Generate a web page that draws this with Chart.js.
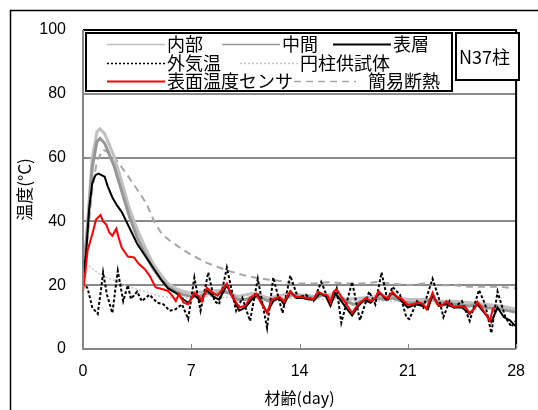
<!DOCTYPE html>
<html><head><meta charset="utf-8">
<script src="https://cdn.jsdelivr.net/npm/chart.js@4/dist/chart.umd.min.js"></script>
<style>html,body{margin:0;padding:0;background:#fff}</style>
</head><body>
<canvas id="c" width="538" height="410"></canvas>
<script>
const xTicks=[0,7,14,21,28];
const yTicks=[0,20,40,60,80,100];
const legendNames=['内部','中間','表層','外気温','円柱供試体','表面温度センサ','簡易断熱'];
const boxLabel='N37柱';
const xTitle='材齢(day)';
const yTitle='温度(°C)';

const naibu=[[0,22],[0.3,40],[0.6,60],[0.9,68],[1.1,69],[1.4,67.5],[2,60.5],[2.5,52.5],[3,44],[3.5,37.5],[4,32],[4.5,27],[5,23.5],[5.5,20.5],[6,19],[6.5,18],[7,17.5],[8,18],[9,18.5],[10,16.5],[11,17.5],[12,16],[13,17],[14,17],[15,16.5],[16,17],[17,15.5],[18,16],[19,16.5],[20,16.5],[21,15.5],[22,15.5],[23,15],[24,15],[25,14.5],[26,14],[27,13.5],[28,12.5]];
const chukan=[[0,22],[0.3,38],[0.6,57],[0.9,65],[1.1,66],[1.4,64.5],[2,57.5],[2.5,49.5],[3,41.5],[3.5,35],[4,30],[4.5,25.5],[5,22],[5.5,19.5],[6,18],[6.5,17],[7,16.5],[7.5,16.5],[8,17.5],[8.5,17],[9,18],[9.5,17.5],[10,15.5],[10.5,15.5],[11,16.5],[11.5,16],[12,15],[12.5,16],[13,15.5],[13.5,17],[14,16.5],[15,16],[15.5,17],[16,16],[16.5,16.5],[17,15],[17.5,14],[18,15],[18.5,15],[19,16],[19.5,15.5],[20,16],[21,14.5],[22,14.5],[22.6,16],[23,14.5],[24,14],[25,13.5],[25.5,14],[26,13],[27,12.5],[28,11.5]];
const hyoso=[[0,22],[0.2,30],[0.4,44],[0.6,52],[0.8,54.5],[1.0,55],[1.2,54.5],[1.4,54],[1.6,51],[1.9,47.5],[2.2,45],[2.5,43],[3,38],[3.5,33],[4.1,28.6],[4.6,25],[5.1,21.4],[5.5,19],[6,17.6],[6.5,15.5],[6.8,14.5],[7.2,17],[7.6,15],[8.0,18.5],[8.4,16.5],[8.8,15.5],[9.3,20],[9.7,16],[10.1,12],[10.5,13],[10.9,15.5],[11.3,17],[11.6,14],[11.9,11.5],[12.3,15],[12.7,16],[13.0,14],[13.4,18],[13.8,16],[14.2,16],[14.6,15.5],[15.0,15.5],[15.3,17.5],[15.7,16.5],[16.0,13.5],[16.3,17.5],[16.7,15],[17.0,13],[17.4,10.5],[17.8,13.5],[18.2,15.5],[18.6,14.5],[19.2,17.5],[19.6,15.5],[20.0,17.5],[20.5,15.5],[21.0,13],[21.5,14],[22.0,13.5],[22.3,12.5],[22.6,17],[23.0,13.5],[23.5,14],[24.0,13],[24.5,13],[25.0,11],[25.5,14],[26.0,11],[26.4,8.5],[26.8,13],[27.2,10],[27.6,9],[28,7]];
const gaiki=[[0,21],[0.3,19],[0.6,13],[0.95,11],[1.15,18],[1.3,24],[1.55,17],[1.9,11.3],[2.1,19],[2.25,24.5],[2.6,15],[2.9,20],[3.1,15.7],[3.5,18],[3.8,15],[4.3,17],[4.8,14.5],[5.2,14],[5.6,12],[6.0,12.5],[6.4,14],[6.8,9.4],[7.2,22.4],[7.6,12],[8.1,24],[8.5,15],[8.8,14],[9.3,25.5],[9.9,12],[10.3,16],[10.8,8.8],[11.3,22],[11.9,6.6],[12.3,22.4],[12.9,11.3],[13.4,23],[13.9,16],[14.4,17],[14.9,15],[15.4,21],[16.0,14],[16.4,19],[16.7,8.2],[17.4,21],[17.9,9],[18.5,18],[18.9,14],[19.3,24],[19.7,15],[20.0,19.5],[20.5,17],[20.9,10],[21.1,9.4],[21.6,15],[22.0,13],[22.6,22],[23.0,16],[23.3,10],[23.7,15],[24.0,13],[24.5,15],[25.0,8.8],[25.6,18.5],[26.0,14],[26.4,5],[26.8,18],[27.3,10],[27.7,7],[28,9]];
const enchu=[[0,20],[0.2,24],[0.4,26],[0.8,24.5],[1.2,23],[2,21.5],[3,19.5],[4,18],[5,16.5],[6,16],[7,16],[8,16.5],[10,16],[12,15.5],[14,16],[16,15.5],[18,15],[20,15],[22,14.5],[24,14],[26,13.5],[28,12]];
const sensor=[[0,18],[0.15,24],[0.3,31],[0.6,36],[0.85,40.7],[1.13,42],[1.3,40],[1.5,39],[1.7,36.5],[1.9,35.5],[2.15,37.7],[2.3,35],[2.5,31.8],[2.9,29],[3.3,28.7],[3.6,26.7],[4.0,25],[4.3,23],[4.7,19.3],[5.1,18.8],[5.5,18.2],[5.8,16.5],[6.0,15],[6.2,17.3],[6.5,14.5],[6.8,14],[7.2,17.6],[7.5,16.5],[7.7,15],[8.0,19.2],[8.3,18],[8.7,16.7],[9.3,20.5],[9.6,17],[10.1,13],[10.5,13.6],[10.8,16],[11.2,17.3],[11.5,14.5],[11.9,11.3],[12.2,15.4],[12.7,16.3],[13.0,14.8],[13.4,18.2],[13.7,16.3],[14.0,16.3],[14.5,16],[14.9,15.6],[15.2,18],[15.5,17.2],[15.8,16.8],[16.0,14.5],[16.2,18],[16.4,18.7],[16.8,15.7],[17.4,11.3],[17.6,12.8],[17.9,14.5],[18.3,16],[18.6,15],[18.9,16],[19.1,18.2],[19.4,16.7],[19.7,15.7],[20.0,18],[20.3,16.3],[20.6,15.7],[21.0,13.8],[21.3,14],[21.7,14.6],[22.0,14],[22.2,12.5],[22.6,17.6],[22.9,14],[23.2,13.5],[23.5,15],[23.7,14],[24.0,13.2],[24.4,13.5],[24.7,13.3],[25.0,11.3],[25.3,12.6],[25.5,14.8],[25.9,12],[26.3,8.8],[26.5,12.7],[26.6,13]];
const kani=[[0,22],[0.3,35],[0.6,50],[0.9,59],[1.3,62.5],[1.7,61.5],[2.2,59],[2.8,55],[3.5,50],[4.1,45.6],[4.6,40],[5.1,36],[5.6,34],[6.2,32],[7,29.5],[8,27],[9.4,24.5],[10.5,23],[11.5,22],[12.5,21.5],[13.7,20.5],[15,20.5],[16,21],[17,20.5],[18,20.5],[19,21],[20,20.5],[21,20],[22,20.5],[23,20],[24,20],[25,19.5],[26,19.5],[27,19.5],[28,19]];

const pts=a=>a.map(([x,y])=>({x,y}));
const styles=[
 {data:naibu,color:'#c0c0c0',w:3,dash:[],order:4,lw:1.5},
 {data:chukan,color:'#969696',w:3,dash:[],order:3,lw:1.5},
 {data:hyoso,color:'#000000',w:2,dash:[],order:2,lw:2},
 {data:gaiki,color:'#000000',w:2,dash:[3,2],order:1,lw:1.5,ldash:[2,2]},
 {data:enchu,color:'#c8c8c8',w:1.5,dash:[2,2],order:6,lw:1.5},
 {data:sensor,color:'#ff0000',w:2,dash:[],order:0,lw:2},
 {data:kani,color:'#a6a6a6',w:2,dash:[7,5],order:5,lw:1.5}
];
const datasets=styles.map((s,i)=>({label:legendNames[i],data:pts(s.data),borderColor:s.color,borderWidth:s.w,borderDash:s.dash,order:s.order,pointRadius:0,tension:0,fill:false}));

const JP='"Noto Sans CJK JP"';
const decor={
 id:'decor',
 beforeDraw(ch){const c=ch.ctx;c.save();c.fillStyle='#fff';c.fillRect(0,0,ch.width,ch.height);
  c.strokeStyle='#000';c.lineWidth=1.5;c.strokeRect(10.5,10.5,600,600);c.restore();},
 afterDraw(ch){
  const c=ch.ctx,a=ch.chartArea,xs=ch.scales.x;c.save();
  c.lineWidth=2;c.strokeStyle='#000';
  c.beginPath();c.moveTo(a.left,a.top);c.lineTo(a.right,a.top);c.lineTo(a.right,a.bottom);c.stroke();
  c.strokeStyle='#868686';c.beginPath();c.moveTo(a.left,a.top);c.lineTo(a.left,a.bottom);c.lineTo(a.right,a.bottom);c.stroke();
  c.lineWidth=1;
  xTicks.forEach(v=>{const px=Math.round(xs.getPixelForValue(v))+0.5;c.beginPath();c.moveTo(px,a.bottom);c.lineTo(px,a.bottom-5);c.stroke();});
  const L=a.left+3,T=a.top+3;
  c.fillStyle='#fff';c.fillRect(L,T,366,58);
  c.strokeStyle='#000';c.lineWidth=2;c.strokeRect(L,T,366,58);
  c.fillRect(L+370,T,63,47);c.strokeRect(L+370,T,63,47);
  c.fillStyle='#000';c.textBaseline='middle';
  c.font='18px '+JP;c.fillText(boxLabel,L+373,T+24);
  const items=[[0,21,11],[1,136,11],[2,247,11],[3,21,30],[4,154,30],[5,21,48],[6,208,48]];
  const lens=[58,58,58,58,58,58,62];
  items.forEach(([i,x,y],k)=>{const s=styles[i];c.strokeStyle=s.color;c.lineWidth=s.lw;c.setLineDash(s.ldash||s.dash);
   c.beginPath();c.moveTo(L+x,T+y+0.5);c.lineTo(L+x+lens[k],T+y+0.5);c.stroke();c.setLineDash([]);
   c.fillStyle='#000';c.font='18px '+JP;c.fillText(legendNames[i],L+x+lens[k]+(i===6?12:2),T+y);});
  c.restore();}
};

new Chart(document.getElementById('c'),{
 type:'line',
 data:{datasets},
 plugins:[decor],
 options:{
  responsive:false,animation:false,devicePixelRatio:1,
  layout:{padding:{left:14,top:30,right:17,bottom:1}},
  plugins:{legend:{display:false},tooltip:{enabled:false}},
  scales:{
   x:{type:'linear',min:0,max:28,
    afterBuildTicks:s=>{s.ticks=xTicks.map(v=>({value:v}));},
    afterFit:s=>{s.height=410-349-1;},
    grid:{display:false,drawTicks:false},border:{display:false},
    ticks:{padding:13,color:'#000',font:{family:'"Liberation Sans"',size:16},maxRotation:0,autoSkip:false},
    title:{display:true,text:xTitle,color:'#000',font:{family:JP,size:16},padding:{top:0,bottom:1}}},
   y:{min:0,max:100,
    afterBuildTicks:s=>{s.ticks=yTicks.map(v=>({value:v}));},
    afterFit:s=>{s.width=83-14;},
    grid:{color:'#8a8a8a',lineWidth:2,drawTicks:false},border:{display:false},
    ticks:{padding:17,color:'#000',font:{family:'"Liberation Sans"',size:16}},
    title:{display:true,text:yTitle,color:'#000',font:{family:JP,size:17},padding:{top:0,bottom:0}}}
  }
 }
});
</script>
</body></html>
